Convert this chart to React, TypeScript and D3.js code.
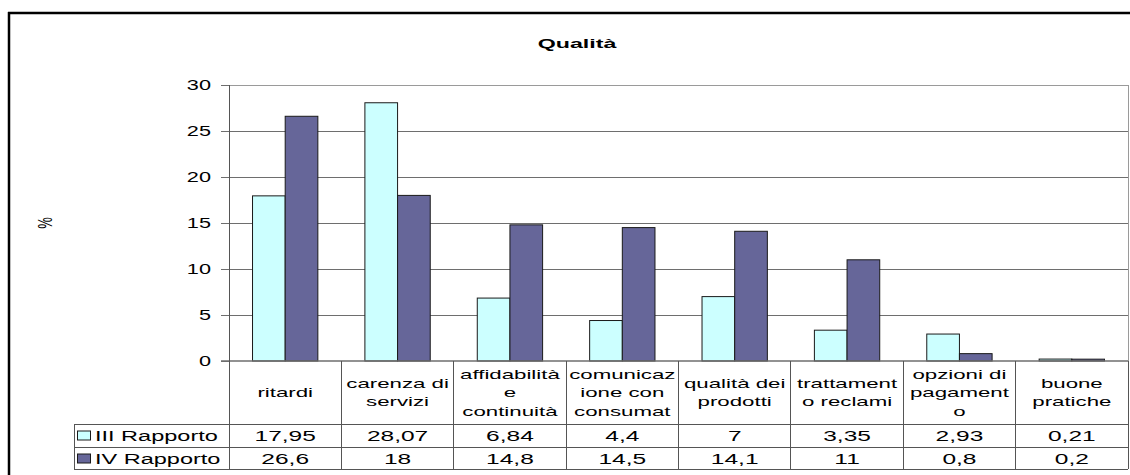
import React from "react";
import * as d3 from "d3";

// Categories (each entry is the list of wrapped lines shown in the table header cell)
const categories: string[][] = [
  ["ritardi"],
  ["carenza di", "servizi"],
  ["affidabilità", "e", "continuità"],
  ["comunicaz", "ione con", "consumat"],
  ["qualità dei", "prodotti"],
  ["trattament", "o reclami"],
  ["opzioni di", "pagament", "o"],
  ["buone", "pratiche"],
];
const seriesNames = ["III Rapporto", "IV Rapporto"];
const seriesIII = [17.95, 28.07, 6.84, 4.4, 7, 3.35, 2.93, 0.21];
const seriesIV = [26.6, 18, 14.8, 14.5, 14.1, 11, 0.8, 0.2];
const labelsIII = ["17,95", "28,07", "6,84", "4,4", "7", "3,35", "2,93", "0,21"];
const labelsIV = ["26,6", "18", "14,8", "14,5", "14,1", "11", "0,8", "0,2"];
const yTicks = [0, 5, 10, 15, 20, 25, 30];
const title = "Qualità";
const yTitle = "%";

const W = 1130;
const H = 475;
const FONT = "'Liberation Sans', Arial, sans-serif";
const COLORS = ["#CCFFFF", "#666699"];

type STextProps = {
  x: number;
  y: number;
  sx?: number;
  size: number;
  anchor?: "start" | "middle" | "end";
  bold?: boolean;
  children: React.ReactNode;
};

// Text drawn with a wide horizontal stretch, as the chart's lettering is
function SText({ x, y, sx = 1.75, size, anchor = "start", bold = false, children }: STextProps) {
  return (
    <text
      transform={`translate(${x},${y}) scale(${sx},1)`}
      textAnchor={anchor}
      fontSize={size}
      fontWeight={bold ? "bold" : "normal"}
      fill="#000"
    >
      {children}
    </text>
  );
}

export default function App() {
  const left = 229;
  const right = 1128;
  const top = 85;
  const zeroY = 361;
  const rowTop1 = 424;
  const rowTop2 = 447;
  const rowBottom = 469;
  const legendLeft = 74;

  const keys = categories.map((c) => c.join(" "));
  const x = d3.scaleBand<string>().domain(keys).range([left, right]).paddingInner(0).paddingOuter(0);
  const xs = d3
    .scaleBand<string>()
    .domain(seriesNames)
    .range([0, x.bandwidth()])
    .paddingInner(0)
    .paddingOuter(0.72);
  const y = d3.scaleLinear().domain([0, 30]).range([zeroY, top]);

  const series = [seriesIII, seriesIV];
  const labels = [labelsIII, labelsIV];
  const rowTops = [rowTop1, rowTop2];
  const rowH = rowTop2 - rowTop1;

  return (
    <svg
      width={W}
      height={H}
      style={{ position: "absolute", left: 0, top: 0, background: "#fff" }}
      fontFamily={FONT}
    >
      <rect x={0} y={0} width={W} height={H} fill="#fff" />
      {/* outer frame */}
      <line x1={8} x2={W} y1={13} y2={13} stroke="#000" strokeWidth={2.5} />
      <line x1={9} x2={9} y1={12} y2={H} stroke="#000" strokeWidth={2.5} />

      {/* title */}
      <SText x={577} y={48} size={13.5} sx={1.72} anchor="middle" bold>
        {title}
      </SText>

      {/* y axis title */}
      <text
        transform={`translate(52,223) rotate(-90) scale(1,1.5)`}
        textAnchor="middle"
        fontSize={13}
        fill="#000"
      >
        {yTitle}
      </text>

      {/* gridlines and ticks */}
      {yTicks.map((t) => (
        <g key={t}>
          {t > 0 && (
            <line
              x1={left}
              x2={right}
              y1={y(t)}
              y2={y(t)}
              stroke={t === 30 ? "#9a9a9a" : "#6e6e6e"}
              strokeWidth={1}
              shapeRendering="crispEdges"
            />
          )}
          <line x1={221} x2={left} y1={y(t)} y2={y(t)} stroke="#6e6e6e" shapeRendering="crispEdges" />
          <SText x={211} y={y(t) + 5} size={14} sx={1.55} anchor="end">
            {t}
          </SText>
        </g>
      ))}
      {/* plot right border */}
      <line x1={right} x2={right} y1={top} y2={zeroY} stroke="#9a9a9a" shapeRendering="crispEdges" />

      {/* bars */}
      {series.map((vals, si) =>
        vals.map((v, i) => {
          const bx = (x(keys[i]) ?? 0) + (xs(seriesNames[si]) ?? 0);
          return (
            <rect
              key={`${si}-${i}`}
              x={bx}
              y={y(v)}
              width={xs.bandwidth()}
              height={zeroY - y(v)}
              fill={COLORS[si]}
              stroke="#1a1a1a"
              strokeWidth={1}
            />
          );
        })
      )}

      {/* zero axis */}
      <line x1={221} x2={right} y1={zeroY} y2={zeroY} stroke="#6e6e6e" strokeWidth={1.5} />

      {/* data table */}
      <g stroke="#555" strokeWidth={1} shapeRendering="crispEdges">
        <line x1={left} x2={left} y1={top} y2={rowBottom} />
        {keys.map((k) => (
          <line key={k} x1={(x(k) ?? 0) + x.bandwidth()} x2={(x(k) ?? 0) + x.bandwidth()} y1={zeroY} y2={rowBottom} />
        ))}
        <line x1={legendLeft} x2={right} y1={rowTop1} y2={rowTop1} />
        <line x1={legendLeft} x2={right} y1={rowTop2} y2={rowTop2} />
        <line x1={legendLeft} x2={right} y1={rowBottom} y2={rowBottom} />
        <line x1={legendLeft} x2={legendLeft} y1={rowTop1} y2={rowBottom} />
      </g>

      {/* category header cells */}
      {categories.map((lines, i) => {
        const cx = (x(keys[i]) ?? 0) + x.bandwidth() / 2;
        const cy = (zeroY + rowTop1) / 2;
        const lh = 18.5;
        const y0 = cy - ((lines.length - 1) * lh) / 2 + 4.5;
        return (
          <g key={keys[i]}>
            {lines.map((ln, j) => (
              <SText key={j} x={cx} y={y0 + j * lh} size={12.5} sx={1.78} anchor="middle">
                {ln}
              </SText>
            ))}
          </g>
        );
      })}

      {/* series rows */}
      {seriesNames.map((name, si) => (
        <g key={name}>
          <rect
            x={legendLeft + 3.5}
            y={rowTops[si] + rowH / 2 - 4.5}
            width={13}
            height={9}
            fill={COLORS[si]}
            stroke="#1a1a1a"
          />
          <SText x={legendLeft + 21} y={rowTops[si] + rowH / 2 + 5} size={14} sx={1.68}>
            {name}
          </SText>
          {labels[si].map((lab, i) => (
            <SText
              key={i}
              x={(x(keys[i]) ?? 0) + x.bandwidth() / 2}
              y={rowTops[si] + rowH / 2 + 5}
              size={14}
              sx={1.75}
              anchor="middle"
            >
              {lab}
            </SText>
          ))}
        </g>
      ))}
    </svg>
  );
}
